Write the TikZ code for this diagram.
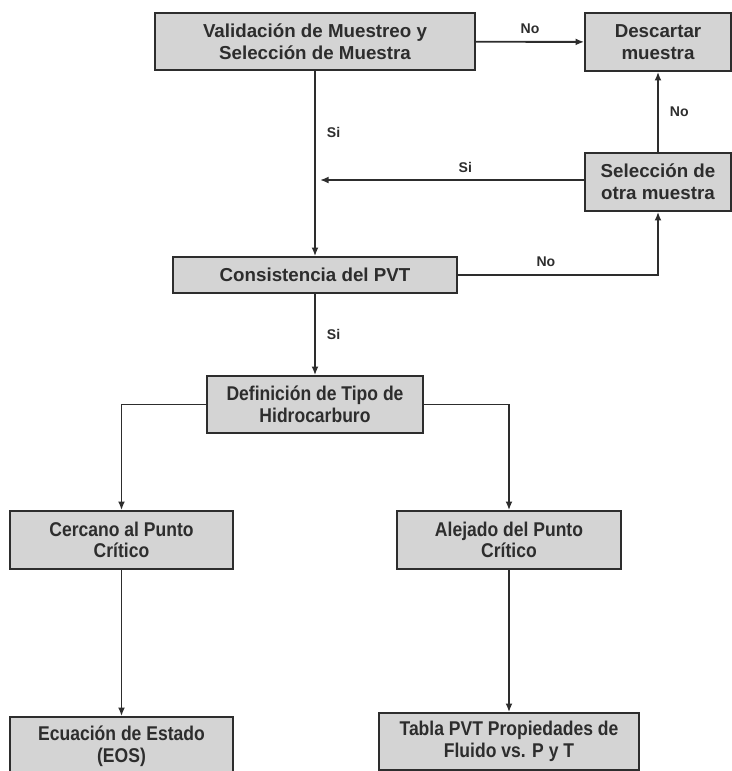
\documentclass[tikz,border=0pt]{standalone}
\usepackage{fontspec}
\setmainfont{Liberation Sans}
\newfontfamily\narrowsans[FakeStretch=0.88]{Liberation Sans}
\usetikzlibrary{arrows.meta}
\definecolor{boxgray}{RGB}{212,212,212}
\definecolor{inkgray}{RGB}{45,45,45}

\begin{document}
\begin{tikzpicture}[x=0.03cm, y=-0.03cm,
    main/.style = {draw=inkgray, fill=boxgray, line width=1.4pt, inner sep=0pt, align=center, text=inkgray,
                   font=\fontsize{16}{19}\selectfont\bfseries},
    low/.style = {main, font=\narrowsans\fontsize{17}{18.5}\selectfont\bfseries},
    lab/.style = {text=inkgray, font=\fontsize{12}{14}\selectfont\bfseries},
    flow/.style = {draw=inkgray, line width=1.6pt, -{Latex[length=2.6mm,width=2.1mm]}}]
            \useasboundingbox (0,0) rectangle (732,771);

            \node[main, minimum width=9.6cm, minimum height=1.71cm] (Val) at (315,41.5) {Validación de Muestreo y\\Selección de Muestra};
            \node[main, minimum width=4.38cm, minimum height=1.74cm] (Desc) at (658,42) {Descartar\\muestra};
            \node[main, minimum width=4.38cm, minimum height=1.74cm] (Sel) at (658,182) {Selección de\\otra muestra};
            \node[main, minimum width=8.52cm, minimum height=1.08cm] (Cons) at (315,275) {Consistencia del PVT};
            \node[low, minimum width=6.48cm, minimum height=1.71cm] (Def) at (315,404.5) {Definición de Tipo de\\Hidrocarburo};
            \node[low, minimum width=6.69cm, minimum height=1.74cm] (Cerc) at (121.5,540) {Cercano al Punto\\Crítico};
            \node[low, minimum width=6.72cm, minimum height=1.74cm] (Alej) at (509,540) {Alejado del Punto\\Crítico};
            \node[low, minimum width=6.69cm, minimum height=1.74cm] (Ecu) at (121.5,746) {Ecuación de Estado\\(EOS)};
            \node[low, minimum width=7.8cm, minimum height=1.71cm] (Tab) at (509,741.5) {Tabla PVT Propiedades de\\Fluido vs. P y T};
            \coordinate (SiEnd) at (320,180);

            \draw[flow] (Val) -- node[lab, above=3pt] {No} (Desc);
            \draw[flow] (Val) -- node[lab, right=6pt, pos=0.33] {Si} (Cons);
            \draw[flow] (Sel.west |- SiEnd) -- node[lab, above=2pt, pos=0.45] {Si} (SiEnd);
            \draw[flow] (Sel) -- node[lab, right=6pt] {No} (Desc);
            \draw[flow] (Cons) -- node[lab, above=3pt, pos=0.44] {No} (Cons -| Sel) -- (Sel);
            \draw[flow] (Cons) -- node[lab, right=6pt] {Si} (Def);

            \draw[flow] (Def) -| (Cerc);
            \draw[flow] (Def) -| (Alej);
            \draw[flow] (Cerc) -- (Ecu);
            \draw[flow] (Alej) -- (Tab);
        \end{tikzpicture}
\end{document}
